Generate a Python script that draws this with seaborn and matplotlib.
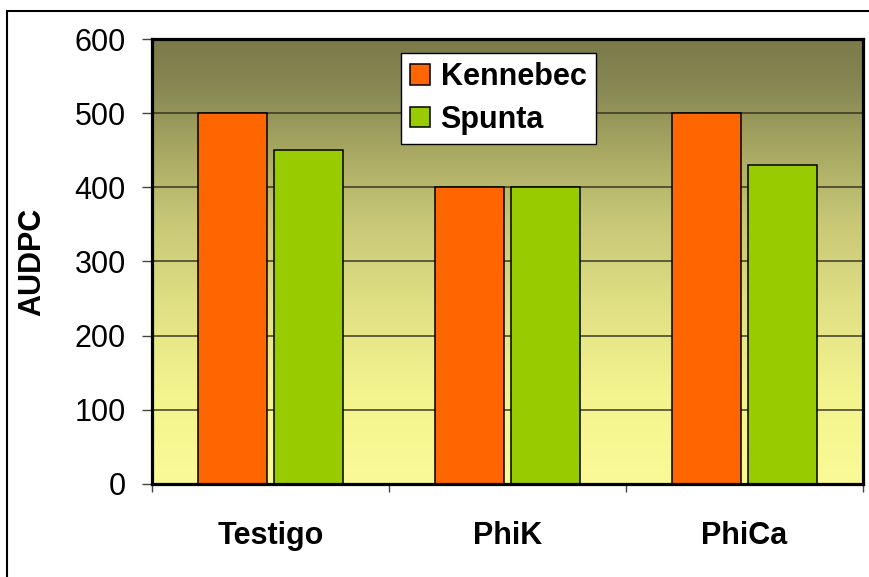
import numpy as np
import pandas as pd
import matplotlib
matplotlib.use("Agg")
import matplotlib.pyplot as plt
from matplotlib.colors import LinearSegmentedColormap
from matplotlib.patches import Patch, Rectangle
import seaborn as sns

treatments = ["Testigo", "PhiK", "PhiCa"]
kennebec = [500, 400, 500]
spunta = [450, 400, 430]
varieties = ["Kennebec", "Spunta"]
y_ticks = [0, 100, 200, 300, 400, 500, 600]

df = pd.DataFrame({
    "treatment": treatments * 2,
    "variety": ["Kennebec"] * 3 + ["Spunta"] * 3,
    "AUDPC": kennebec + spunta,
})

sns.set_theme(style="white")
plt.rcParams["font.family"] = ["Liberation Sans", "DejaVu Sans"]
plt.rcParams["text.color"] = "black"
plt.rcParams["axes.labelcolor"] = "black"
plt.rcParams["xtick.color"] = "black"
plt.rcParams["ytick.color"] = "black"

palette = {"Kennebec": "#FF6600", "Spunta": "#99CC00"}

fig = plt.figure(figsize=(8.69, 5.77), dpi=100)
ax = fig.add_axes([0.1749, 0.1612, 0.8182, 0.7712])

# gradient background of the plot area (bottom pale yellow -> top olive)
grad = LinearSegmentedColormap.from_list(
    "olive", [(0.0, "#FAFA96"), (0.2, "#F4F48F"), (0.4, "#E0E084"),
              (0.6, "#C6C676"), (0.75, "#A8A863"), (0.88, "#8A8A55"),
              (1.0, "#7A7A4A")])
ax.imshow(np.linspace(0, 1, 256).reshape(-1, 1), cmap=grad, origin="lower",
          extent=[0, 1, 0, 1], transform=ax.transAxes, aspect="auto", zorder=0)

sns.barplot(data=df, x="treatment", y="AUDPC", hue="variety", order=treatments,
            hue_order=varieties, palette=palette, width=0.645, gap=0.104,
            edgecolor="black", linewidth=1.1, saturation=1, ax=ax, zorder=2)

ax.set_xlim(-0.5, 2.5)
ax.set_ylim(0, 600)
ax.set_yticks(y_ticks)
ax.set_axisbelow(True)
ax.yaxis.grid(True, color="#2e2e20", linewidth=1.2, alpha=0.85)
ax.xaxis.grid(False)

for s in ax.spines.values():
    s.set_visible(True)
    s.set_color("black")
    s.set_linewidth(2.3)

ax.tick_params(axis="y", which="major", direction="out", length=7, width=1,
               color="#444444", labelcolor="black", pad=12, labelsize=22, left=True)
ax.set_xticks([0, 1, 2])
ax.set_xticklabels(treatments, fontsize=22, fontweight="bold", color="black")
ax.tick_params(axis="x", which="major", length=0, pad=27)
ax.set_xticks([-0.5, 0.5, 1.5, 2.5], minor=True)
ax.tick_params(axis="x", which="minor", direction="out", length=6, width=1,
               color="#444444", bottom=True)

ax.set_xlabel("")
ax.set_ylabel("AUDPC", fontsize=22, fontweight="bold", color="black")
ax.yaxis.set_label_coords(-0.148, 0.5)

handles = [Patch(facecolor=palette[v], edgecolor="black", linewidth=1.1) for v in varieties]
leg = ax.legend(handles, varieties, loc="upper left", bbox_to_anchor=(0.350, 0.968),
                prop={"size": 22, "weight": "bold"}, frameon=True, fancybox=False,
                facecolor="white", edgecolor="black", framealpha=1,
                handlelength=0.65, handleheight=0.65, handletextpad=0.35,
                borderpad=0.3, labelspacing=0.4, borderaxespad=0)
leg.get_frame().set_linewidth(1.0)
for t in leg.get_texts():
    t.set_color("black")

# outer chart border
fig.add_artist(Rectangle((7 / 869, -0.1), 1.2, (577 - 11) / 577 + 0.1,
                         transform=fig.transFigure, fill=False,
                         edgecolor="black", linewidth=1.5))

fig.savefig("out.png", dpi=100)
